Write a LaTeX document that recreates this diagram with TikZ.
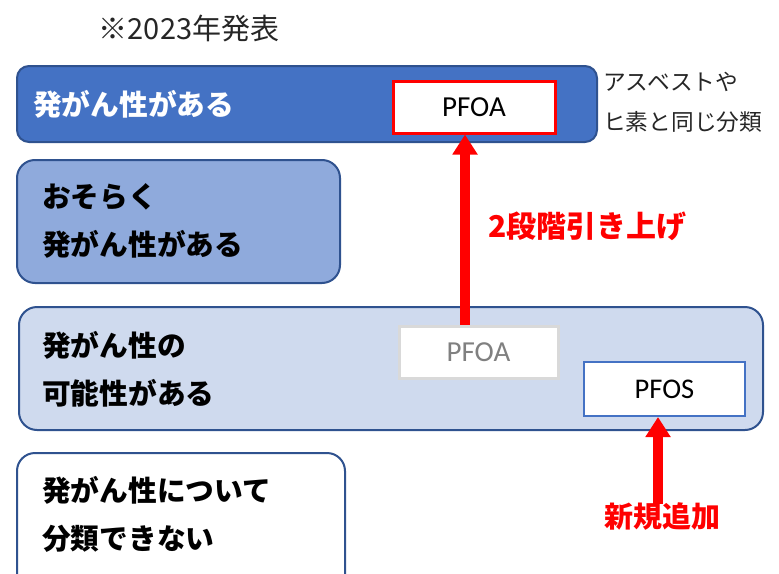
\documentclass[tikz,border=0pt]{standalone}
\usepackage{fontspec}
\setmainfont{Noto Sans CJK JP}
\newfontfamily\latinfont{Carlito}
\usetikzlibrary{arrows.meta}
\definecolor{dblue}{HTML}{4472C4}
\definecolor{mblue}{HTML}{8FAADC}
\definecolor{lblue}{HTML}{CFDAEE}
\definecolor{edgeblue}{HTML}{2F528F}
\definecolor{redc}{HTML}{FF0000}
\definecolor{grayedge}{HTML}{D9D9D9}
\definecolor{graytext}{HTML}{808080}
\definecolor{darktext}{HTML}{262626}
\tikzset{
  level/.style={draw=edgeblue, line width=2pt, rounded corners=18pt},
  label/.style={anchor=west, align=left, inner sep=0pt, font=\fontsize{28.7}{48}\selectfont\bfseries},
  chem/.style={minimum width=#1, minimum height=52pt, inner sep=0pt, fill=white, font=\latinfont\fontsize{29}{32}\selectfont},
  bigarrow/.style={draw=redc, line width=10pt, -{Triangle[width=24pt,length=20pt]}},
  redlabel/.style={text=redc, font=\fontsize{29}{32}\selectfont\bfseries, inner sep=0pt},
}
\begin{document}
\begin{tikzpicture}[x=1pt,y=-1pt]
\useasboundingbox (0,0) rectangle (779,573);
\node[inner sep=0pt, text=darktext, font=\fontsize{29}{32}\selectfont] (title) at (189,28) {※2023年発表};
% levels
\draw[level, fill=dblue, rounded corners=12pt] (17,66) rectangle (597,142);
\node[label, text=white] (l1) at (33,104) {発がん性がある};
\draw[level, fill=mblue] (17,160) rectangle (340,283);
\node[label, text=black] (l2) at (42,221) {おそらく\\発がん性がある};
\draw[level, fill=lblue] (19,307) rectangle (763,430);
\node[label, text=black] (l3) at (42,369) {発がん性の\\可能性がある};
\draw[level, fill=white] (17,453) rectangle (345,600);
\node[label, text=black] (l4) at (42,514) {発がん性について\\分類できない};
% side note
\node[anchor=west, inner sep=0pt, align=left, text=darktext, font=\fontsize{22.7}{40}\selectfont] (note) at (603,102) {アスベストや\\ヒ素と同じ分類};
% chemical boxes
\node[chem=162pt, draw=redc, line width=3pt] (pfoa) at (474,107) {PFOA};
\node[chem=159pt, draw=grayedge, line width=3pt, text=graytext] (pfoaold) at (478.5,352) {PFOA};
\node[chem=161pt, draw=dblue, line width=2pt, minimum height=54pt, font=\latinfont\fontsize{28.5}{32}\selectfont] (pfos) at (664.5,389) {PFOS};
% labels
\node[redlabel, anchor=west, font=\fontsize{30}{32}\selectfont\bfseries] (up) at (488,226) {2段階引き上げ};
\node[redlabel] (new) at (662,516) {新規追加};
% arrows
\draw[bigarrow] (pfoaold.north -| 465,0) -- (pfoa.south -| 465,0);
\draw[bigarrow] ([yshift=-2pt]new.north -| 658,0) -- (pfos.south -| 658,0);
\end{tikzpicture}
\end{document}
